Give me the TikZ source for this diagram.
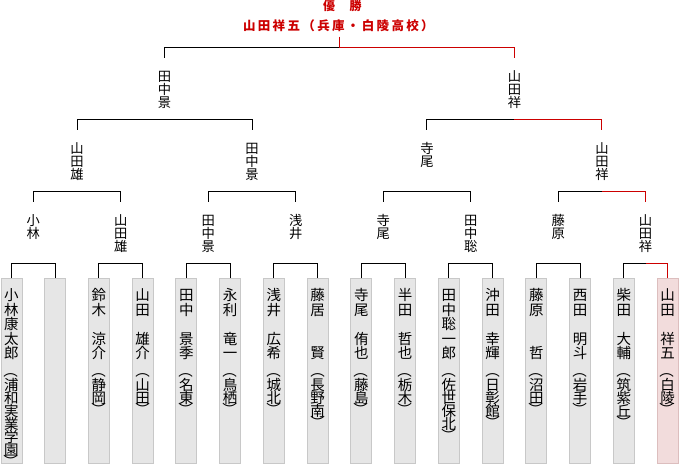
\documentclass[tikz,border=0pt]{standalone}
\usepackage{fontspec}
\usepackage{graphicx}
\newfontfamily\cjk{Noto Sans CJK JP}
\definecolor{winred}{RGB}{204,0,0}
\definecolor{boxgray}{RGB}{230,230,230}
\definecolor{boxline}{RGB}{200,200,200}
\definecolor{winfill}{RGB}{242,220,220}
\definecolor{winline}{RGB}{220,190,190}
\makeatletter
\newcommand\cjkcell[1]{\hbox to 16pt{\hss#1\hss\vrule height 13pt depth 0pt width 0pt}}
\newcommand\vlp{\smash{\raisebox{0.7em}{\rotatebox{-90}{（}}}}
\newcommand\vrp{\smash{\raisebox{0.3em}{\rotatebox{-90}{）}}}}
\newcommand\vname[2]{\vbox{\cjk\fontsize{14.5}{14.5}\selectfont
  \lineskiplimit=-100pt\lineskip=0pt\baselineskip=14.5pt
  \@tfor\x:=#1\do{\cjkcell{\x}}%
  \baselineskip=14.7pt\cjkcell{\vlp}%
  \baselineskip=16.9pt
  \@tfor\x:=#2\do{\cjkcell{\x}\baselineskip=13pt}%
  \baselineskip=3.5pt\cjkcell{\vrp}}}
\newcommand\vlabel[1]{\vbox{\cjk\fontsize{13.3}{13.3}\selectfont
  \lineskiplimit=-100pt\lineskip=0pt\baselineskip=13.4pt
  \@tfor\x:=#1\do{\hbox to 15pt{\hss\x\hss\vrule height 12pt depth 0pt width 0pt}}}}
\newcommand\spread[2]{\@tfor\x:=#2\do{\makebox[#1]{\x}}}
\makeatother
\newcommand\brk[6]{%
  \draw ([yshift=#4]#1.north) -- ++(0,-#5) coordinate (#1k) -- (#1k -| #3.north);
  \draw[#6] ([yshift=#4]#2.north) -- ++(0,-#5) coordinate (#2k) -- (#2k -| #3.north);}
\begin{document}
\begin{tikzpicture}[x=1pt,y=-1pt,line width=1pt,
  leafbox/.style={draw=boxline,fill=boxgray,minimum width=21pt,minimum height=185pt,inner sep=0pt,anchor=north},
  winbox/.style={leafbox,draw=winline,fill=winfill},
  nametext/.style={anchor=north,inner sep=0pt},
  lab/.style={anchor=north,inner sep=0pt},
  redline/.style={draw=winred},
  plain/.style={draw=black}]
\useasboundingbox (0,0) rectangle (680,464);
% title
\node[anchor=base,inner sep=0pt,text=winred] (yusho) at (342.3,10.5)
  {\cjk\fontsize{12}{12}\selectfont\bfseries\spread{13.3pt}{優　勝}};
\node[anchor=base,inner sep=0pt,text=winred] (champ) at (338.4,30)
  {\cjk\fontsize{12.5}{12.5}\selectfont\bfseries\spread{14.85pt}{山田祥五（兵庫・白陵高校）}};
\coordinate (topc) at (339.5,36.7);
% leaf boxes
\node[leafbox] (b1) at (11.50,278) {};
\node[leafbox] (b2) at (55.23,278) {};
\node[leafbox] (b3) at (98.97,278) {};
\node[leafbox] (b4) at (142.70,278) {};
\node[leafbox] (b5) at (186.43,278) {};
\node[leafbox] (b6) at (230.17,278) {};
\node[leafbox] (b7) at (273.90,278) {};
\node[leafbox] (b8) at (317.63,278) {};
\node[leafbox] (b9) at (361.37,278) {};
\node[leafbox] (b10) at (405.10,278) {};
\node[leafbox] (b11) at (448.83,278) {};
\node[leafbox] (b12) at (492.57,278) {};
\node[leafbox] (b13) at (536.30,278) {};
\node[leafbox] (b14) at (580.03,278) {};
\node[leafbox] (b15) at (623.77,278) {};
\node[winbox] (b16) at (667.50,278) {};
% names
\node[nametext] (n1) at ([yshift=-9.3pt]b1.north) {\vname{小林康太郎}{浦和実業学園}};
\node[nametext] (n3) at ([yshift=-9.3pt]b3.north) {\vname{鈴木　涼介}{静岡}};
\node[nametext] (n4) at ([yshift=-9.3pt]b4.north) {\vname{山田　雄介}{山田}};
\node[nametext] (n5) at ([yshift=-9.3pt]b5.north) {\vname{田中　景季}{名東}};
\node[nametext] (n6) at ([yshift=-9.3pt]b6.north) {\vname{永利　竜一}{鳥栖}};
\node[nametext] (n7) at ([yshift=-9.3pt]b7.north) {\vname{浅井　広希}{城北}};
\node[nametext] (n8) at ([yshift=-9.3pt]b8.north) {\vname{藤居　　賢}{長野南}};
\node[nametext] (n9) at ([yshift=-9.3pt]b9.north) {\vname{寺尾　侑也}{藤島}};
\node[nametext] (n10) at ([yshift=-9.3pt]b10.north) {\vname{半田　哲也}{栃木}};
\node[nametext] (n11) at ([yshift=-9.3pt]b11.north) {\vname{田中聡一郎}{佐世保北}};
\node[nametext] (n12) at ([yshift=-9.3pt]b12.north) {\vname{沖田　幸輝}{日彰館}};
\node[nametext] (n13) at ([yshift=-9.3pt]b13.north) {\vname{藤原　　哲}{沼田}};
\node[nametext] (n14) at ([yshift=-9.3pt]b14.north) {\vname{西田　明斗}{岩手}};
\node[nametext] (n15) at ([yshift=-9.3pt]b15.north) {\vname{柴田　大輔}{筑紫丘}};
\node[nametext] (n16) at ([yshift=-9.3pt]b16.north) {\vname{山田　祥五}{白陵}};
% round labels
\node[lab] (l1a) at (33.37,212.5) {\vlabel{小林}};
\node[lab] (l1b) at (120.83,212.5) {\vlabel{山田雄}};
\node[lab] (l1c) at (208.30,212.5) {\vlabel{田中景}};
\node[lab] (l1d) at (295.77,212.5) {\vlabel{浅井}};
\node[lab] (l1e) at (383.23,212.5) {\vlabel{寺尾}};
\node[lab] (l1f) at (470.70,212.5) {\vlabel{田中聡}};
\node[lab] (l1g) at (558.17,212.5) {\vlabel{藤原}};
\node[lab] (l1h) at (645.63,212.5) {\vlabel{山田祥}};
\node[lab] (l2a) at (77.10,140.5) {\vlabel{山田雄}};
\node[lab] (l2b) at (252.03,140.5) {\vlabel{田中景}};
\node[lab] (l2c) at (426.97,140.5) {\vlabel{寺尾}};
\node[lab] (l2d) at (601.90,140.5) {\vlabel{山田祥}};
\node[lab] (l3a) at (164.57,68.5) {\vlabel{田中景}};
\node[lab] (l3b) at (514.43,68.5) {\vlabel{山田祥}};
% brackets
\brk{b1}{b2}{l1a}{0pt}{14.5}{plain}
\brk{b3}{b4}{l1b}{0pt}{14.5}{plain}
\brk{b5}{b6}{l1c}{0pt}{14.5}{plain}
\brk{b7}{b8}{l1d}{0pt}{14.5}{plain}
\brk{b9}{b10}{l1e}{0pt}{14.5}{plain}
\brk{b11}{b12}{l1f}{0pt}{14.5}{plain}
\brk{b13}{b14}{l1g}{0pt}{14.5}{plain}
\brk{b15}{b16}{l1h}{0pt}{14.5}{redline}
\brk{l1a}{l1b}{l2a}{11pt}{10}{plain}
\brk{l1c}{l1d}{l2b}{11pt}{10}{plain}
\brk{l1e}{l1f}{l2c}{11pt}{10}{plain}
\brk{l1g}{l1h}{l2d}{11pt}{10}{redline}
\brk{l2a}{l2b}{l3a}{11pt}{10}{plain}
\brk{l2c}{l2d}{l3b}{11pt}{10}{redline}
\brk{l3a}{l3b}{topc}{11pt}{10}{redline}
\draw[redline] (topc) -- (topc |- l3bk);
\end{tikzpicture}
\end{document}
